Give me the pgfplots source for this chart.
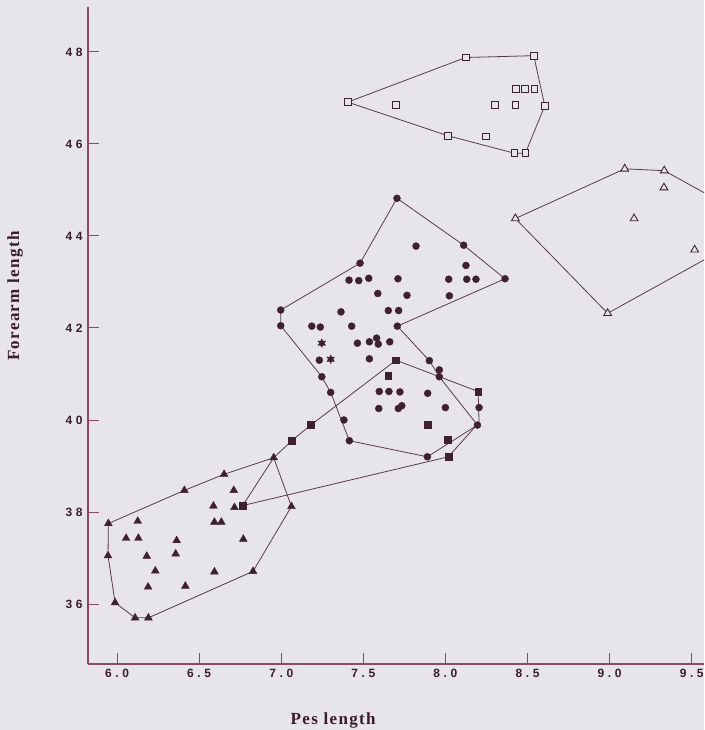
\documentclass[border=0pt]{standalone}
\usepackage{fontspec}
\usepackage{pgfplots}
\pgfplotsset{compat=1.18}
\usetikzlibrary{calc}
\newfontfamily\tickfont[LetterSpace=30]{Liberation Sans}
\newfontfamily\labfont[LetterSpace=8]{Liberation Serif}
\definecolor{bgcol}{HTML}{E7E4EA}
\definecolor{mk}{HTML}{3E2030}
\definecolor{ln}{HTML}{5A3A48}
\definecolor{axc}{HTML}{8A4A5E}
\definecolor{txt}{HTML}{3A1C2A}
\begin{document}
\begin{tikzpicture}
\fill[bgcol] (-88pt,-66pt) rectangle (616pt,664pt);
\begin{axis}[
  at={(0,0)}, anchor=south west,
  width=616pt, height=657pt, scale only axis,
  xmin=5.823, xmax=9.575, ymin=34.696, ymax=48.978,
  axis x line=bottom, axis y line=left,
  axis line style={axc, line width=1.2pt, -},
  tick align=inside, major tick length=11pt,
  tick style={axc, line width=1pt},
  xtick={6,6.5,7,7.5,8,8.5,9,9.5},
  xticklabels={6.0,6.5,7.0,7.5,8.0,8.5,9.0,9.5},
  ytick={36,38,40,42,44,46,48},
  yticklabels={36,38,40,42,44,46,48},
  xticklabel style={font=\tickfont\bfseries\fontsize{12}{13}\selectfont, text=txt, yshift=-2pt},
  yticklabel style={font=\tickfont\bfseries\fontsize{12}{13}\selectfont, text=txt, xshift=-2pt},
  xlabel={Pes length},
  ylabel={Forearm length},
  xlabel style={font=\labfont\bfseries\fontsize{17}{18}\selectfont, text=txt, at={(rel axis cs:0.398,-0.0852)}, anchor=center},
  ylabel style={font=\labfont\bfseries\fontsize{17}{18}\selectfont, text=txt, at={(rel axis cs:-0.1185,0.56)}, anchor=center},
  clip=true,
]
% ---------- polygons ----------
\addplot[ln, line width=0.8pt, mark=none] coordinates {
 (7.405,46.91) (8.124,47.88) (8.538,47.92) (8.605,46.83) (8.487,45.80) (8.420,45.80) (8.014,46.18) (7.405,46.91)};
\addplot[ln, line width=0.8pt, mark=none] coordinates {
 (8.426,44.38) (9.092,45.46) (9.333,45.42) (9.945,44.21) (8.988,42.32) (8.426,44.38)};
\addplot[ln, line width=0.8pt, mark=none] coordinates {
 (7.705,44.82) (8.111,43.80) (8.363,43.07) (7.707,42.04) (7.902,41.29) (7.963,40.94) (8.195,39.89) (7.890,39.20) (7.415,39.55) (7.301,40.60) (7.247,40.94) (6.997,42.05) (6.997,42.39) (7.480,43.41) (7.705,44.82)};
\addplot[ln, line width=0.8pt, mark=none] coordinates {
 (6.765,38.14) (6.954,39.18) (7.064,39.55) (7.180,39.89) (7.699,41.30) (8.199,40.62) (8.205,39.95) (8.018,39.20) (6.765,38.14)};
\addplot[ln, line width=0.8pt, mark=none] coordinates {
 (5.947,37.75) (6.410,38.47) (6.652,38.82) (6.954,39.18) (7.062,38.12) (6.828,36.71) (6.191,35.70) (6.110,35.70) (5.988,36.03) (5.945,37.05) (5.947,37.75)};
% ---------- open squares ----------
\addplot[only marks, mark=square*, mark size=3.3pt, mark options={draw=mk, fill=bgcol, line width=0.9pt}] coordinates {
 (7.405,46.91) (8.124,47.88) (8.538,47.92) (8.428,47.19) (8.483,47.20) (8.541,47.19) (7.697,46.85) (8.302,46.85) (8.426,46.85) (8.605,46.83) (8.014,46.18) (8.247,46.16) (8.420,45.80) (8.487,45.80)};
% ---------- open triangles ----------
\addplot[only marks, mark=triangle*, mark size=4.5pt, mark options={draw=mk, fill=bgcol, line width=0.9pt}] coordinates {
 (8.426,44.38) (9.092,45.46) (9.333,45.42) (9.331,45.05) (9.149,44.38) (9.518,43.70) (8.988,42.32)};
% ---------- filled circles ----------
\addplot[only marks, mark=*, mark size=3.5pt, mark options={draw=mk, fill=mk}] coordinates {
 (7.705,44.82) (8.111,43.80) (8.363,43.07) (7.707,42.04) (7.902,41.29) (7.963,40.94) (8.195,39.89) (7.890,39.20) (7.415,39.55) (7.301,40.60) (7.247,40.94) (6.997,42.05) (6.997,42.39) (7.480,43.41)
 (7.821,43.78) (8.125,43.36) (7.413,43.04) (7.472,43.03) (7.533,43.08) (7.711,43.07) (8.020,43.06) (8.130,43.06) (8.186,43.06)
 (7.588,42.75) (7.766,42.71) (8.024,42.70) (7.364,42.35) (7.652,42.38) (7.715,42.38) (7.186,42.04) (7.238,42.02) (7.429,42.04)
 (7.464,41.67) (7.537,41.70) (7.581,41.78) (7.591,41.65) (7.661,41.70) (7.232,41.30) (7.537,41.33) (7.963,41.09)
 (7.597,40.62) (7.656,40.62) (7.723,40.61) (7.892,40.58) (7.594,40.25) (7.713,40.25) (7.734,40.31) (8.000,40.27) (8.205,40.27) (7.382,40.00)};
% ---------- starred circles ----------
\addplot[only marks, mark=*, mark size=2.8pt, mark options={draw=mk, fill=mk}] coordinates {(7.247,41.67) (7.301,41.32)};
\addplot[only marks, mark=asterisk, mark size=4.3pt, mark options={draw=mk, line width=1.3pt}] coordinates {(7.247,41.67) (7.301,41.32)};
% ---------- filled squares ----------
\addplot[only marks, mark=square*, mark size=3.4pt, mark options={draw=mk, fill=mk}] coordinates {
 (6.765,38.14) (7.064,39.55) (7.180,39.89) (7.699,41.30) (7.652,40.96) (8.199,40.62) (7.892,39.89) (8.012,39.57) (8.018,39.20)};
% ---------- filled triangles ----------
\addplot[only marks, mark=triangle*, mark size=4.5pt, mark options={draw=mk, fill=mk}] coordinates {
 (6.954,39.18) (6.652,38.82) (6.410,38.47) (6.711,38.47) (5.947,37.75) (6.126,37.80) (6.587,38.13) (6.715,38.10) (7.062,38.12)
 (6.593,37.78) (6.635,37.78) (6.055,37.43) (6.130,37.43) (6.363,37.38) (6.769,37.41) (5.945,37.05) (6.181,37.04) (6.357,37.09)
 (6.233,36.72) (6.593,36.70) (6.828,36.71) (6.189,36.37) (6.416,36.39) (5.988,36.03) (6.110,35.70) (6.191,35.70)};
\end{axis}
\pgfresetboundingbox
\path[use as bounding box] (-88pt,-66pt) rectangle (616pt,664pt);
\end{tikzpicture}
\end{document}
